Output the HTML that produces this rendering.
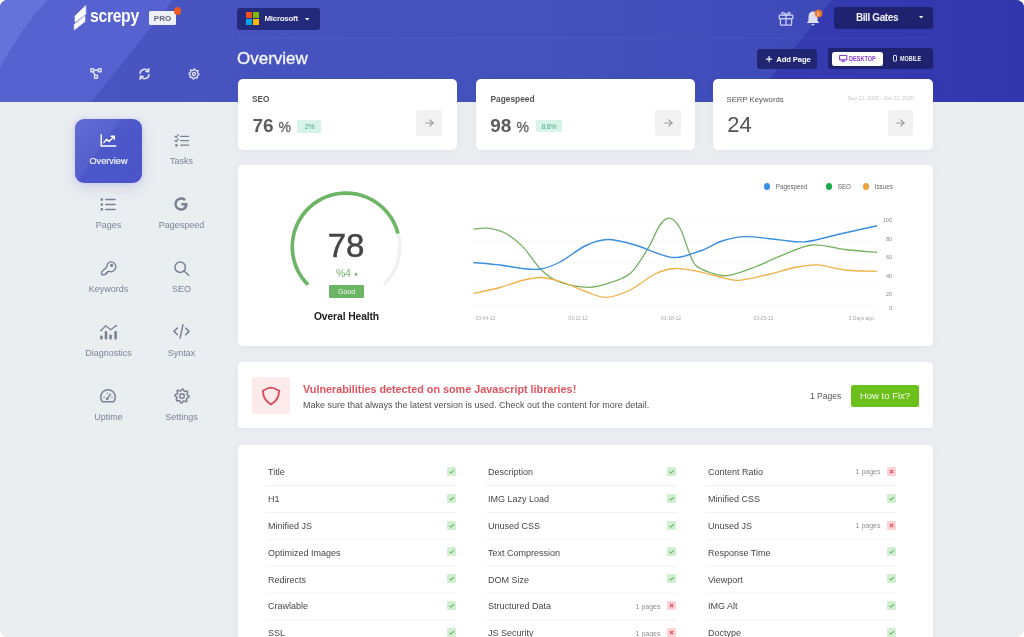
<!DOCTYPE html>
<html><head><meta charset="utf-8"><title>Screpy Overview</title>
<style>
html,body{margin:0;padding:0;background:#fff;}
body{width:1024px;height:637px;overflow:hidden;font-family:"Liberation Sans", sans-serif;}
#app{position:relative;width:1024px;height:637px;overflow:hidden;border-radius:8px;background:#ebeef0;will-change:transform;}
.a{position:absolute;}
.t{position:absolute;white-space:nowrap;line-height:1;}
svg.a{overflow:visible;}
</style></head><body><div id="app">
<div class="a" style="left:0;top:0;width:1024px;height:102px;background:linear-gradient(90deg,#4a57c2 0%,#4653be 30%,#4351bc 55%,#3d49b8 82%);"></div>
<svg class="a" style="left:0px;top:0px;" width="1024" height="102" viewBox="0 0 1024 102">
<defs><linearGradient id="rg" x1="0" x2="1" y1="0" y2="0"><stop offset="0" stop-color="#363bb2"/><stop offset="1" stop-color="#3337ae"/></linearGradient></defs>
<polygon points="832,0 1024,0 1024,102 752,102" fill="url(#rg)"/>
<polygon points="0,0 173,0 91,102 0,102" fill="#5562cf"/>
<path d="M0 0 L47 0 Q20 30 0 68 Z" fill="#6473d9"/>
<rect x="238" y="37.5" width="695" height="1" fill="#ffffff" opacity="0.05"/>
</svg>
<svg class="a" style="left:0px;top:0px;opacity:0.96" width="100" height="40" viewBox="0 0 100 40">
<polygon points="75,16 85.8,5.6 85.8,14.2 75,22.2" fill="#fff" stroke="#fff" stroke-width="0.6" stroke-linejoin="round"/>
<polygon points="74.2,24.6 85,15.8 85,21.6 74.2,30" fill="#fff" stroke="#fff" stroke-width="0.6" stroke-linejoin="round"/>
</svg>
<div class="t" style="left:90.00px;top:6.00px;font-size:19px;color:#fff;font-weight:700;letter-spacing:-0.4px;transform:scaleX(0.83);transform-origin:0 0;">screpy</div>
<div class="a" style="left:149px;top:11px;width:27px;height:13.5px;background:#eef0f8;border-radius:1.5px;"></div>
<div class="t" style="left:149.00px;top:15.00px;font-size:8px;color:#65687a;font-weight:700;width:27px;text-align:center;">PRO</div>
<div class="a" style="left:173.5px;top:7.4px;width:7.8px;height:7.8px;background:#ec5a24;border-radius:5px;"></div>
<svg class="a" style="left:89px;top:67px;" width="14" height="13" viewBox="0 0 14 13">
<g fill="none" stroke="#dfe3fb" stroke-width="1.4">
<rect x="1.8" y="1.8" width="3" height="3" rx="0.5"/>
<rect x="9.2" y="1.8" width="3" height="3" rx="0.5"/>
<rect x="5.5" y="8.2" width="3" height="3" rx="0.5"/>
<path d="M4.8 3.3 L9.2 3.3 M4 4.8 L6.2 8.2"/>
</g></svg>
<svg class="a" style="left:138px;top:68px;" width="13" height="12" viewBox="0 0 13 12">
<g fill="none" stroke="#dfe3fb" stroke-width="1.5" stroke-linecap="round">
<path d="M2 5.2 A4.6 4.6 0 0 1 10.4 3.4"/>
<path d="M11 6.8 A4.6 4.6 0 0 1 2.6 8.6"/>
<path d="M10.8 0.8 L10.6 3.6 L7.8 3.4"/>
<path d="M2.2 11.2 L2.4 8.4 L5.2 8.6"/>
</g></svg>
<svg class="a" style="left:187.5px;top:67.5px;" width="12" height="12" viewBox="0 0 12 12"><polygon points="6.00,1.00 6.98,1.10 7.45,2.49 8.11,2.84 9.54,2.46 10.16,3.22 9.51,4.55 9.73,5.26 11.00,6.00 10.90,6.98 9.51,7.45 9.16,8.11 9.54,9.54 8.78,10.16 7.45,9.51 6.74,9.73 6.00,11.00 5.02,10.90 4.55,9.51 3.89,9.16 2.46,9.54 1.84,8.78 2.49,7.45 2.27,6.74 1.00,6.00 1.10,5.02 2.49,4.55 2.84,3.89 2.46,2.46 3.22,1.84 4.55,2.49 5.26,2.27" fill="none" stroke="#dfe3fb" stroke-width="1.3" stroke-linejoin="round"/><circle cx="6" cy="6" r="1.5" fill="none" stroke="#dfe3fb" stroke-width="1.3"/></svg>
<div class="a" style="left:237px;top:8px;width:82.5px;height:21.5px;background:#232a7b;border-radius:3px;"></div>
<div class="a" style="left:246px;top:12px;width:6.2px;height:6.2px;background:#f25022;border-radius:0px;"></div>
<div class="a" style="left:252.8px;top:12px;width:6.2px;height:6.2px;background:#7fba00;border-radius:0px;"></div>
<div class="a" style="left:246px;top:18.8px;width:6.2px;height:6.2px;background:#00a4ef;border-radius:0px;"></div>
<div class="a" style="left:252.8px;top:18.8px;width:6.2px;height:6.2px;background:#ffb900;border-radius:0px;"></div>
<div class="t" style="left:264.50px;top:15.00px;font-size:8px;color:#f0f1fb;font-weight:700;letter-spacing:-0.3px;">Microsoft</div>
<svg class="a" style="left:305.3px;top:17.6px;" width="4.4" height="2.5" viewBox="0 0 4.4 2.5"><path d="M0 0 L4.4 0 L2.2 2.5 Z" fill="#fff"/></svg>
<svg class="a" style="left:777.6px;top:10.6px;" width="17" height="15" viewBox="0 0 17 15"><g fill="none" stroke="#c9cdf6" stroke-width="1.3" stroke-linejoin="round">
<rect x="1.2" y="4.2" width="13.6" height="3.4" rx="0.6"/>
<rect x="2.4" y="7.6" width="11.2" height="6.6" rx="0.6"/>
<path d="M8 4.2 L8 14.2"/>
<path d="M8 4.2 C6.5 0.2 3 1 4 3 C4.5 4 6.5 4.2 8 4.2 C9.5 4.2 11.5 4 12 3 C13 1 9.5 0.2 8 4.2"/>
</g></svg>
<svg class="a" style="left:806px;top:10px;" width="15" height="17" viewBox="0 0 15 17"><path d="M7 1.5 C3.8 1.5 2.5 4.2 2.5 7 L2.5 10.5 L0.8 13 L13.2 13 L11.5 10.5 L11.5 7 C11.5 4.2 10.2 1.5 7 1.5 Z" fill="#dcdff8"/>
<path d="M5 14.2 Q7 16.6 9 14.2 Z" fill="#dcdff8"/></svg>
<div class="a" style="left:814.6px;top:9.8px;width:7.6px;height:7.6px;background:radial-gradient(circle,#f0661c 0%,#f27a2a 70%,#f08a40 100%);border-radius:5px;box-shadow:0 0 1.5px 0.5px rgba(240,120,60,0.6);"></div>
<div class="t" style="left:814.40px;top:13.00px;font-size:4.6px;color:#ffd9c0;font-weight:700;width:8px;text-align:center;">5</div>
<div class="a" style="left:834px;top:7px;width:99px;height:21.5px;background:#1f236f;border-radius:3px;"></div>
<div class="t" style="left:837.00px;top:13.00px;font-size:10px;color:#f2f3fb;font-weight:700;letter-spacing:-0.4px;width:80px;text-align:center;">Bill Gates</div>
<svg class="a" style="left:919.3px;top:16.4px;" width="4.2" height="2.4" viewBox="0 0 4.2 2.4"><path d="M0 0 L4.2 0 L2.1 2.4 Z" fill="#fff"/></svg>
<div class="t" style="left:237.00px;top:50.00px;font-size:17px;color:#f4f5fd;-webkit-text-stroke:0.35px #f4f5fd;">Overview</div>
<div class="a" style="left:757px;top:48.5px;width:60px;height:20px;background:#212673;border-radius:3px;"></div>
<svg class="a" style="left:765.8px;top:56px;" width="6.2" height="6.2" viewBox="0 0 6.2 6.2"><path d="M3.1 0 V6.2 M0 3.1 H6.2" stroke="#fff" stroke-width="1.1"/></svg>
<div class="t" style="left:776.30px;top:56.00px;font-size:7.7px;color:#fff;font-weight:700;letter-spacing:-0.15px;">Add Page</div>
<div class="a" style="left:828px;top:48px;width:105px;height:20.7px;background:#1f236f;border-radius:3px;"></div>
<div class="a" style="left:832px;top:52px;width:51px;height:13.7px;background:#fff;border-radius:2.5px;"></div>
<svg class="a" style="left:838.7px;top:55px;" width="8.4" height="6.6" viewBox="0 0 8.4 6.6"><g fill="none" stroke="#8b3cd9" stroke-width="1.1"><rect x="0.6" y="0.55" width="7.2" height="4.3" rx="0.4"/><path d="M4.2 4.9 V6.3 M2.4 6.3 H6"/></g></svg>
<div class="t" style="left:849.20px;top:56.00px;font-size:6.8px;color:#8b3cd9;font-weight:700;transform:scaleX(0.82);transform-origin:0 0;">DESKTOP</div>
<svg class="a" style="left:893.2px;top:55.2px;" width="4" height="6.6" viewBox="0 0 4 6.6"><rect x="0.5" y="0.5" width="3" height="5.6" rx="0.5" fill="none" stroke="#e6e8fb" stroke-width="0.95"/></svg>
<div class="t" style="left:900.40px;top:56.00px;font-size:6.8px;color:#eef0fb;font-weight:700;transform:scaleX(0.8);transform-origin:0 0;">MOBILE</div>
<div class="a" style="left:75px;top:119px;width:67px;height:63.5px;border-radius:9px;background:linear-gradient(135deg,#5a65d4 0%,#4d58ca 45%,#4a54c6 100%);box-shadow:0 5px 14px rgba(60,70,160,0.16), 0 0 0 2.5px rgba(226,229,248,0.8);overflow:hidden;">
<div style="position:absolute;left:-20px;top:-30px;width:40px;height:120px;background:rgba(255,255,255,0.05);transform:rotate(35deg);"></div></div>
<div class="t" style="left:78.50px;top:157.00px;font-size:9.1px;color:#f3f4fd;width:60px;text-align:center;-webkit-text-stroke:0.2px #f3f4fd;">Overview</div>
<div class="t" style="left:151.50px;top:157.00px;font-size:9px;color:#7c8394;width:60px;text-align:center;">Tasks</div>
<div class="t" style="left:78.50px;top:221.00px;font-size:9px;color:#7c8394;width:60px;text-align:center;">Pages</div>
<div class="t" style="left:151.50px;top:221.00px;font-size:9px;color:#7c8394;width:60px;text-align:center;">Pagespeed</div>
<div class="t" style="left:78.50px;top:285.00px;font-size:9px;color:#7c8394;width:60px;text-align:center;">Keywords</div>
<div class="t" style="left:151.50px;top:285.00px;font-size:9px;color:#7c8394;width:60px;text-align:center;">SEO</div>
<div class="t" style="left:78.50px;top:349.00px;font-size:9px;color:#7c8394;width:60px;text-align:center;">Diagnostics</div>
<div class="t" style="left:151.50px;top:349.00px;font-size:9px;color:#7c8394;width:60px;text-align:center;">Syntax</div>
<div class="t" style="left:78.50px;top:413.00px;font-size:9px;color:#7c8394;width:60px;text-align:center;">Uptime</div>
<div class="t" style="left:151.50px;top:413.00px;font-size:9px;color:#7c8394;width:60px;text-align:center;">Settings</div>
<svg class="a" style="left:99.5px;top:133.8px;" width="17" height="13" viewBox="0 0 17 13"><g fill="none" stroke="#fff" stroke-width="1.4" stroke-linecap="round" stroke-linejoin="round">
<path d="M1.2 0.8 V12 H15.8"/><path d="M3.8 8.6 L6.8 5.2 L9.2 7.4 L13.8 2.6"/><path d="M11 2.2 H14.3 V5.4"/></g></svg>
<svg class="a" style="left:173.5px;top:133.8px;" width="16" height="13" viewBox="0 0 16 13"><g fill="none" stroke="#7a8194" stroke-width="1.3" stroke-linecap="round" stroke-linejoin="round">
<path d="M1 2.2 L2.2 3.4 L4.2 0.8"/><path d="M1 6.4 L2.2 7.6 L4.2 5"/><circle cx="2.4" cy="11.3" r="0.7" fill="#7a8194"/>
<path d="M6.8 2.4 H14.6 M6.8 6.6 H14.6 M6.8 11.2 H14.6"/></g></svg>
<svg class="a" style="left:100.0px;top:197.7px;" width="16" height="13" viewBox="0 0 16 13"><g fill="none" stroke="#7a8194" stroke-width="1.5" stroke-linecap="round">
<circle cx="1.8" cy="1.6" r="0.6" fill="#7a8194"/><circle cx="1.8" cy="6.5" r="0.6" fill="#7a8194"/><circle cx="1.8" cy="11.4" r="0.6" fill="#7a8194"/>
<path d="M5.8 1.6 H15 M5.8 6.5 H15 M5.8 11.4 H15"/></g></svg>
<svg class="a" style="left:174.1px;top:197.2px;" width="15" height="14" viewBox="0 0 15 14"><path d="M13.2 6 H7.4 V8.4 H10.6 C10.1 10.1 8.9 11.3 7.2 11.3 C4.6 11.3 2.8 9.3 2.8 7 C2.8 4.7 4.6 2.7 7.2 2.7 C8.4 2.7 9.4 3.1 10.2 3.9 L12 2.1 C10.7 0.9 9.1 0.3 7.2 0.3 C3.4 0.3 0.4 3.3 0.4 7 C0.4 10.7 3.4 13.7 7.2 13.7 C11 13.7 13.6 11 13.6 7.2 C13.6 6.8 13.3 6.4 13.2 6 Z" fill="#7a8194"/></svg>
<svg class="a" style="left:99.5px;top:260.6px;" width="17" height="15" viewBox="0 0 17 15"><g fill="none" stroke="#7a8194" stroke-width="1.4" stroke-linejoin="round">
<path d="M10.6 0.9 A4.9 4.9 0 1 1 9.3 10.4 L7.6 10.4 L7.6 12 L5.8 12 L5.8 13.6 L2.2 13.8 L1.4 12.8 L1.6 11 L6.9 5.8 A4.9 4.9 0 0 1 10.6 0.9 Z"/>
<circle cx="11.6" cy="4.4" r="0.9" fill="#7a8194"/></g></svg>
<svg class="a" style="left:174.0px;top:260.7px;" width="16" height="15" viewBox="0 0 16 15"><g fill="none" stroke="#7a8194" stroke-width="1.5" stroke-linecap="round">
<circle cx="6.2" cy="6.2" r="5.2"/><path d="M10 10 L14.8 14.2"/></g></svg>
<svg class="a" style="left:98.5px;top:323.8px;" width="19" height="16" viewBox="0 0 19 16"><g fill="none" stroke="#7a8194" stroke-width="1.3" stroke-linejoin="round" stroke-linecap="round">
<path d="M2.1 6.4 L6.7 1.8 L11.8 5.8 L16.9 1.8"/>
<rect x="1.75" y="12.05" width="1.3" height="2.8" rx="0.4"/><rect x="6.35" y="7.55" width="1.25" height="7.3" rx="0.4"/>
<rect x="10.95" y="11.05" width="1.25" height="3.8" rx="0.4"/><rect x="15.95" y="7.55" width="1.3" height="7.3" rx="0.4"/></g>
<circle cx="2.1" cy="6.4" r="1" fill="#7a8194"/><circle cx="16.9" cy="1.8" r="1" fill="#7a8194"/></svg>
<svg class="a" style="left:172.8px;top:324.4px;" width="17" height="15" viewBox="0 0 17 15"><g fill="none" stroke="#7a8194" stroke-width="1.5" stroke-linecap="round" stroke-linejoin="round">
<path d="M4.4 4 L1 7.4 L4.4 10.8"/><path d="M12.6 4 L16 7.4 L12.6 10.8"/><path d="M9.9 0.8 L7.1 14.2"/></g></svg>
<svg class="a" style="left:99.2px;top:388.4px;" width="18" height="16" viewBox="0 0 18 16"><g fill="none" stroke="#7a8194" stroke-width="1.5" stroke-linecap="round" stroke-linejoin="round">
<path d="M3.4 13.7 A7.3 7.3 0 1 1 14.6 13.7 Z"/><path d="M8.4 10.6 L11.4 6.4"/></g>
<circle cx="5" cy="9.2" r="0.75" fill="#7a8194"/><circle cx="8.5" cy="5.2" r="0.75" fill="#7a8194"/><circle cx="13" cy="9.2" r="0.75" fill="#7a8194"/>
<circle cx="8.2" cy="10.8" r="1.4" fill="#7a8194"/></svg>
<svg class="a" style="left:173.7px;top:387.6px;" width="16" height="16" viewBox="0 0 16 16"><polygon points="8.00,1.00 9.37,1.13 10.03,3.10 10.94,3.59 12.95,3.05 13.82,4.11 12.90,5.97 13.20,6.97 15.00,8.00 14.87,9.37 12.90,10.03 12.41,10.94 12.95,12.95 11.89,13.82 10.03,12.90 9.03,13.20 8.00,15.00 6.63,14.87 5.97,12.90 5.06,12.41 3.05,12.95 2.18,11.89 3.10,10.03 2.80,9.03 1.00,8.00 1.13,6.63 3.10,5.97 3.59,5.06 3.05,3.05 4.11,2.18 5.97,3.10 6.97,2.80" fill="none" stroke="#7a8194" stroke-width="1.5" stroke-linejoin="round"/><circle cx="8" cy="8" r="2.3" fill="none" stroke="#7a8194" stroke-width="1.5"/></svg>
<div class="a" style="left:238px;top:79px;width:219px;height:70.5px;background:#fff;border-radius:5px;box-shadow:0 1px 8px rgba(90,100,190,0.07);"></div>
<div class="a" style="left:476px;top:79px;width:219px;height:70.5px;background:#fff;border-radius:5px;box-shadow:0 1px 8px rgba(90,100,190,0.07);"></div>
<div class="a" style="left:713px;top:79px;width:220px;height:70.5px;background:#fff;border-radius:5px;box-shadow:0 1px 8px rgba(90,100,190,0.07);"></div>
<div class="t" style="left:252.00px;top:96.00px;font-size:8.2px;color:#555;font-weight:700;">SEO</div>
<div class="t" style="left:252.40px;top:116.00px;font-size:19px;color:#5c5c5c;font-weight:700;">76</div>
<div class="t" style="left:278.40px;top:120.00px;font-size:14px;color:#666;-webkit-text-stroke:0.35px #666;">%</div>
<div class="a" style="left:297px;top:119.6px;width:24.2px;height:13px;background:#d8f3e9;border-radius:1px;"></div>
<div class="t" style="left:297.60px;top:123.00px;font-size:7px;color:#4aae86;letter-spacing:-0.3px;width:24px;text-align:center;">2%</div>
<div class="t" style="left:490.40px;top:95.00px;font-size:8.4px;color:#555;font-weight:700;">Pagespeed</div>
<div class="t" style="left:490.20px;top:116.00px;font-size:19px;color:#5c5c5c;font-weight:700;">98</div>
<div class="t" style="left:516.40px;top:120.00px;font-size:14px;color:#666;-webkit-text-stroke:0.35px #666;">%</div>
<div class="a" style="left:535.8px;top:119.6px;width:26.3px;height:12.6px;background:#d8f3e9;border-radius:1px;"></div>
<div class="t" style="left:536.00px;top:123.00px;font-size:7px;color:#4aae86;letter-spacing:-0.3px;width:26px;text-align:center;">8.8%</div>
<div class="t" style="left:726.50px;top:96.00px;font-size:7.75px;color:#555;">SERP Keywords</div>
<div class="t" style="left:727.20px;top:114.00px;font-size:22px;color:#555;">24</div>
<div class="t" style="left:823.80px;top:96.00px;font-size:5.5px;color:#c8c8c8;letter-spacing:-0.1px;width:90px;text-align:right;">Sep 22, 2020 - Oct 22, 2020</div>
<div class="a" style="left:416.3px;top:109.8px;width:25.5px;height:25.8px;background:#f2f2f2;border-radius:2px;"></div>
<svg class="a" style="left:424.8px;top:118.8px;" width="9" height="8" viewBox="0 0 9 8"><g fill="none" stroke="#9a9a9a" stroke-width="1.2" stroke-linecap="round" stroke-linejoin="round"><path d="M0.8 4 H8"/><path d="M4.8 0.8 L8 4 L4.8 7.2"/></g></svg>
<div class="a" style="left:655.2px;top:109.8px;width:25.5px;height:25.8px;background:#f2f2f2;border-radius:2px;"></div>
<svg class="a" style="left:663.7px;top:118.8px;" width="9" height="8" viewBox="0 0 9 8"><g fill="none" stroke="#9a9a9a" stroke-width="1.2" stroke-linecap="round" stroke-linejoin="round"><path d="M0.8 4 H8"/><path d="M4.8 0.8 L8 4 L4.8 7.2"/></g></svg>
<div class="a" style="left:887.6px;top:109.8px;width:25.5px;height:25.8px;background:#f2f2f2;border-radius:2px;"></div>
<svg class="a" style="left:896.1px;top:118.8px;" width="9" height="8" viewBox="0 0 9 8"><g fill="none" stroke="#9a9a9a" stroke-width="1.2" stroke-linecap="round" stroke-linejoin="round"><path d="M0.8 4 H8"/><path d="M4.8 0.8 L8 4 L4.8 7.2"/></g></svg>
<div class="a" style="left:238px;top:165px;width:695px;height:181px;background:#fff;border-radius:4px;box-shadow:0 1px 8px rgba(90,100,190,0.07);"></div>
<svg class="a" style="left:0px;top:0px;pointer-events:none" width="1024" height="637" viewBox="0 0 1024 637">
<path d="M308.03 284.77 A53.7 53.7 0 1 1 383.97 284.77" fill="none" stroke="#f0f0f0" stroke-width="3.4"/>
<path d="M308.03 284.77 A53.7 53.7 0 1 1 398.01 233.45" fill="none" stroke="#6cb565" stroke-width="3.6"/>
</svg>
<div class="t" style="left:306.00px;top:229.00px;font-size:33px;color:#444;width:80px;text-align:center;-webkit-text-stroke:0.5px #444;">78</div>
<div class="t" style="left:328.30px;top:268.00px;font-size:10.5px;color:#76b870;letter-spacing:-0.2px;width:30px;text-align:center;">%4</div>
<svg class="a" style="left:354.2px;top:272px;" width="3.8" height="3.4" viewBox="0 0 3.8 3.4"><path d="M1.9 0 L3.8 3.4 L0 3.4 Z" fill="#6cb565"/></svg>
<div class="a" style="left:329px;top:285.3px;width:35.2px;height:12.5px;background:#6cb565;border-radius:1px;"></div>
<div class="t" style="left:329.10px;top:288.00px;font-size:7px;color:#f2fbf1;width:35px;text-align:center;">Good</div>
<div class="t" style="left:296.50px;top:312.00px;font-size:10.3px;color:#222;font-weight:700;letter-spacing:-0.1px;width:100px;text-align:center;">Overal Health</div>
<div class="a" style="left:763.6999999999999px;top:183.4px;width:6.4px;height:6.4px;background:#3d8fe3;border-radius:4px;"></div>
<div class="t" style="left:775.70px;top:184.00px;font-size:6.3px;color:#666;">Pagespeed</div>
<div class="a" style="left:825.6999999999999px;top:183.4px;width:6.4px;height:6.4px;background:#1faa4a;border-radius:4px;"></div>
<div class="t" style="left:837.70px;top:184.00px;font-size:6.3px;color:#666;">SEO</div>
<div class="a" style="left:862.6999999999999px;top:183.4px;width:6.4px;height:6.4px;background:#f0a23c;border-radius:4px;"></div>
<div class="t" style="left:874.70px;top:184.00px;font-size:6.3px;color:#666;">Issues</div>
<svg class="a" style="left:0px;top:0px;pointer-events:none" width="1024" height="637" viewBox="0 0 1024 637"><line x1="473" y1="219.7" x2="877" y2="219.7" stroke="#ebebeb" stroke-width="0.8" stroke-dasharray="1.6 2.4"/><line x1="473" y1="241.5" x2="877" y2="241.5" stroke="#ebebeb" stroke-width="0.8" stroke-dasharray="1.6 2.4"/><line x1="473" y1="263" x2="877" y2="263" stroke="#ebebeb" stroke-width="0.8" stroke-dasharray="1.6 2.4"/><line x1="473" y1="285" x2="877" y2="285" stroke="#ebebeb" stroke-width="0.8" stroke-dasharray="1.6 2.4"/><line x1="473" y1="306" x2="877" y2="306" stroke="#ebebeb" stroke-width="0.8" stroke-dasharray="1.6 2.4"/>
<path d="M473.50 229.10 C475.75 228.95 481.75 227.55 487.00 228.20 C492.25 228.85 499.08 229.97 505.00 233.00 C510.92 236.03 516.43 240.23 522.50 246.40 C528.57 252.57 535.15 264.03 541.40 270.00 C547.65 275.97 552.07 279.32 560.00 282.20 C567.93 285.08 580.33 287.33 589.00 287.30 C597.67 287.27 605.00 284.42 612.00 282.00 C619.00 279.58 625.00 278.42 631.00 272.80 C637.00 267.18 643.17 256.27 648.00 248.30 C652.83 240.33 656.42 230.02 660.00 225.00 C663.58 219.98 666.17 217.70 669.50 218.20 C672.83 218.70 676.75 222.37 680.00 228.00 C683.25 233.63 686.38 245.78 689.00 252.00 C691.62 258.22 692.20 261.88 695.70 265.30 C699.20 268.72 704.67 270.78 710.00 272.50 C715.33 274.22 720.20 276.52 727.70 275.60 C735.20 274.68 746.28 270.23 755.00 267.00 C763.72 263.77 770.50 259.87 780.00 256.20 C789.50 252.53 801.17 246.12 812.00 245.00 C822.83 243.88 834.17 248.25 845.00 249.50 C855.83 250.75 871.67 252.00 877.00 252.50" fill="none" stroke="#76b061" stroke-width="1.3"/>
<path d="M473.50 293.50 C477.92 292.50 491.92 289.67 500.00 287.50 C508.08 285.33 515.17 282.17 522.00 280.50 C528.83 278.83 534.33 277.25 541.00 277.50 C547.67 277.75 554.50 279.63 562.00 282.00 C569.50 284.37 578.60 289.15 586.00 291.70 C593.40 294.25 599.07 297.58 606.40 297.30 C613.73 297.02 621.90 293.88 630.00 290.00 C638.10 286.12 647.50 277.58 655.00 274.00 C662.50 270.42 667.50 268.85 675.00 268.50 C682.50 268.15 692.50 270.48 700.00 271.90 C707.50 273.32 713.50 275.58 720.00 277.00 C726.50 278.42 730.67 280.90 739.00 280.40 C747.33 279.90 760.67 276.15 770.00 274.00 C779.33 271.85 787.05 269.02 795.00 267.50 C802.95 265.98 809.37 264.48 817.70 264.90 C826.03 265.32 835.12 268.93 845.00 270.00 C854.88 271.07 871.67 271.08 877.00 271.30" fill="none" stroke="#f0b046" stroke-width="1.3"/>
<path d="M473.50 262.50 C477.92 262.92 491.92 264.00 500.00 265.00 C508.08 266.00 515.17 267.83 522.00 268.50 C528.83 269.17 534.67 270.08 541.00 269.00 C547.33 267.92 552.50 265.92 560.00 262.00 C567.50 258.08 578.00 249.25 586.00 245.50 C594.00 241.75 599.83 239.58 608.00 239.50 C616.17 239.42 624.33 242.02 635.00 245.00 C645.67 247.98 661.17 256.40 672.00 257.40 C682.83 258.40 691.67 253.73 700.00 251.00 C708.33 248.27 714.50 243.40 722.00 241.00 C729.50 238.60 735.33 236.78 745.00 236.60 C754.67 236.42 769.83 239.05 780.00 239.90 C790.17 240.75 796.00 242.68 806.00 241.70 C816.00 240.72 828.17 236.67 840.00 234.00 C851.83 231.33 870.83 227.08 877.00 225.70" fill="none" stroke="#3c8fde" stroke-width="1.4"/>
</svg>
<div class="t" style="left:872.00px;top:218.00px;font-size:5.5px;color:#8a8a8a;width:20px;text-align:right;">100</div>
<div class="t" style="left:872.00px;top:237.00px;font-size:5.5px;color:#8a8a8a;width:20px;text-align:right;">80</div>
<div class="t" style="left:872.00px;top:255.00px;font-size:5.5px;color:#8a8a8a;width:20px;text-align:right;">60</div>
<div class="t" style="left:872.00px;top:274.00px;font-size:5.5px;color:#8a8a8a;width:20px;text-align:right;">40</div>
<div class="t" style="left:872.00px;top:292.00px;font-size:5.5px;color:#8a8a8a;width:20px;text-align:right;">20</div>
<div class="t" style="left:872.00px;top:306.00px;font-size:5.5px;color:#8a8a8a;width:20px;text-align:right;">0</div>
<div class="t" style="left:465.40px;top:316.00px;font-size:5px;color:#a8a8a8;width:40px;text-align:center;">03-04-12</div>
<div class="t" style="left:558.00px;top:316.00px;font-size:5px;color:#a8a8a8;width:40px;text-align:center;">03-11-12</div>
<div class="t" style="left:651.00px;top:316.00px;font-size:5px;color:#a8a8a8;width:40px;text-align:center;">03-18-12</div>
<div class="t" style="left:743.40px;top:316.00px;font-size:5px;color:#a8a8a8;width:40px;text-align:center;">03-25-12</div>
<div class="t" style="left:841.30px;top:316.00px;font-size:5px;color:#a8a8a8;width:40px;text-align:center;">3 Days ago</div>
<div class="a" style="left:238px;top:362px;width:695px;height:66px;background:#fff;border-radius:4px;box-shadow:0 1px 8px rgba(90,100,190,0.07);"></div>
<div class="a" style="left:252px;top:377.2px;width:37.6px;height:37px;background:#fdeaea;border-radius:3px;"></div>
<svg class="a" style="left:261px;top:386px;" width="20" height="20" viewBox="0 0 20 20"><path d="M10 1.6 C7.4 1.7 4.6 3 2 4.8 C1.8 11 5 15.6 10 18.5 C15 15.6 18.2 11 18 4.8 C15.4 3 12.6 1.7 10 1.6 Z" fill="none" stroke="#d54c5c" stroke-width="1.9" stroke-linejoin="round"/></svg>
<div class="t" style="left:303.00px;top:384.00px;font-size:10.8px;color:#e2535e;font-weight:700;">Vulnerabilities detected on some Javascript libraries!</div>
<div class="t" style="left:303.00px;top:401.00px;font-size:9px;color:#505050;">Make sure that always the latest version is used. Check out the content for more detail.</div>
<div class="t" style="left:810.00px;top:392.00px;font-size:8.5px;color:#555;">1 Pages</div>
<div class="a" style="left:851.4px;top:384.6px;width:67.3px;height:22.2px;background:#6cc01b;border-radius:2.5px;"></div>
<div class="t" style="left:851.50px;top:391.00px;font-size:9.5px;color:#f4fbe9;width:67px;text-align:center;">How to Fix?</div>
<div class="a" style="left:238px;top:444.5px;width:695px;height:200px;background:#fff;border-radius:4px;box-shadow:0 1px 8px rgba(90,100,190,0.07);"></div>
<div class="t" style="left:268.00px;top:468.00px;font-size:9px;color:#474747;">Title</div>
<div class="a" style="left:447px;top:466.8px;width:9.2px;height:9px;background:#d3efd3;border-radius:1px;"></div>
<svg class="a" style="left:447px;top:466.8px;" width="9.2" height="9" viewBox="0 0 9.2 9"><path d="M2.5 4.7 L4 6.1 L6.9 3.1" fill="none" stroke="#66b866" stroke-width="1.1"/></svg>
<div class="t" style="left:268.00px;top:495.00px;font-size:9px;color:#474747;">H1</div>
<div class="a" style="left:447px;top:493.65000000000003px;width:9.2px;height:9px;background:#d3efd3;border-radius:1px;"></div>
<svg class="a" style="left:447px;top:493.65000000000003px;" width="9.2" height="9" viewBox="0 0 9.2 9"><path d="M2.5 4.7 L4 6.1 L6.9 3.1" fill="none" stroke="#66b866" stroke-width="1.1"/></svg>
<div class="t" style="left:268.00px;top:522.00px;font-size:9px;color:#474747;">Minified JS</div>
<div class="a" style="left:447px;top:520.5px;width:9.2px;height:9px;background:#d3efd3;border-radius:1px;"></div>
<svg class="a" style="left:447px;top:520.5px;" width="9.2" height="9" viewBox="0 0 9.2 9"><path d="M2.5 4.7 L4 6.1 L6.9 3.1" fill="none" stroke="#66b866" stroke-width="1.1"/></svg>
<div class="t" style="left:268.00px;top:549.00px;font-size:9px;color:#474747;">Optimized Images</div>
<div class="a" style="left:447px;top:547.35px;width:9.2px;height:9px;background:#d3efd3;border-radius:1px;"></div>
<svg class="a" style="left:447px;top:547.35px;" width="9.2" height="9" viewBox="0 0 9.2 9"><path d="M2.5 4.7 L4 6.1 L6.9 3.1" fill="none" stroke="#66b866" stroke-width="1.1"/></svg>
<div class="t" style="left:268.00px;top:576.00px;font-size:9px;color:#474747;">Redirects</div>
<div class="a" style="left:447px;top:574.2px;width:9.2px;height:9px;background:#d3efd3;border-radius:1px;"></div>
<svg class="a" style="left:447px;top:574.2px;" width="9.2" height="9" viewBox="0 0 9.2 9"><path d="M2.5 4.7 L4 6.1 L6.9 3.1" fill="none" stroke="#66b866" stroke-width="1.1"/></svg>
<div class="t" style="left:268.00px;top:602.00px;font-size:9px;color:#474747;">Crawlable</div>
<div class="a" style="left:447px;top:601.05px;width:9.2px;height:9px;background:#d3efd3;border-radius:1px;"></div>
<svg class="a" style="left:447px;top:601.05px;" width="9.2" height="9" viewBox="0 0 9.2 9"><path d="M2.5 4.7 L4 6.1 L6.9 3.1" fill="none" stroke="#66b866" stroke-width="1.1"/></svg>
<div class="t" style="left:268.00px;top:629.00px;font-size:9px;color:#474747;">SSL</div>
<div class="a" style="left:447px;top:627.9000000000001px;width:9.2px;height:9px;background:#d3efd3;border-radius:1px;"></div>
<svg class="a" style="left:447px;top:627.9000000000001px;" width="9.2" height="9" viewBox="0 0 9.2 9"><path d="M2.5 4.7 L4 6.1 L6.9 3.1" fill="none" stroke="#66b866" stroke-width="1.1"/></svg>
<div class="t" style="left:488.00px;top:468.00px;font-size:9px;color:#474747;">Description</div>
<div class="a" style="left:667px;top:466.8px;width:9.2px;height:9px;background:#d3efd3;border-radius:1px;"></div>
<svg class="a" style="left:667px;top:466.8px;" width="9.2" height="9" viewBox="0 0 9.2 9"><path d="M2.5 4.7 L4 6.1 L6.9 3.1" fill="none" stroke="#66b866" stroke-width="1.1"/></svg>
<div class="t" style="left:488.00px;top:495.00px;font-size:9px;color:#474747;">IMG Lazy Load</div>
<div class="a" style="left:667px;top:493.65000000000003px;width:9.2px;height:9px;background:#d3efd3;border-radius:1px;"></div>
<svg class="a" style="left:667px;top:493.65000000000003px;" width="9.2" height="9" viewBox="0 0 9.2 9"><path d="M2.5 4.7 L4 6.1 L6.9 3.1" fill="none" stroke="#66b866" stroke-width="1.1"/></svg>
<div class="t" style="left:488.00px;top:522.00px;font-size:9px;color:#474747;">Unused CSS</div>
<div class="a" style="left:667px;top:520.5px;width:9.2px;height:9px;background:#d3efd3;border-radius:1px;"></div>
<svg class="a" style="left:667px;top:520.5px;" width="9.2" height="9" viewBox="0 0 9.2 9"><path d="M2.5 4.7 L4 6.1 L6.9 3.1" fill="none" stroke="#66b866" stroke-width="1.1"/></svg>
<div class="t" style="left:488.00px;top:549.00px;font-size:9px;color:#474747;">Text Compression</div>
<div class="a" style="left:667px;top:547.35px;width:9.2px;height:9px;background:#d3efd3;border-radius:1px;"></div>
<svg class="a" style="left:667px;top:547.35px;" width="9.2" height="9" viewBox="0 0 9.2 9"><path d="M2.5 4.7 L4 6.1 L6.9 3.1" fill="none" stroke="#66b866" stroke-width="1.1"/></svg>
<div class="t" style="left:488.00px;top:576.00px;font-size:9px;color:#474747;">DOM Size</div>
<div class="a" style="left:667px;top:574.2px;width:9.2px;height:9px;background:#d3efd3;border-radius:1px;"></div>
<svg class="a" style="left:667px;top:574.2px;" width="9.2" height="9" viewBox="0 0 9.2 9"><path d="M2.5 4.7 L4 6.1 L6.9 3.1" fill="none" stroke="#66b866" stroke-width="1.1"/></svg>
<div class="t" style="left:488.00px;top:602.00px;font-size:9px;color:#474747;">Structured Data</div>
<div class="a" style="left:667px;top:601.05px;width:9.2px;height:9px;background:#fcd3d7;border-radius:1px;"></div>
<svg class="a" style="left:667px;top:601.05px;" width="9.2" height="9" viewBox="0 0 9.2 9"><path d="M3 2.9 L6.2 6.1 M6.2 2.9 L3 6.1" stroke="#e0505e" stroke-width="1.2"/></svg>
<div class="t" style="left:620.50px;top:603.00px;font-size:7px;color:#909090;width:40px;text-align:right;">1 pages</div>
<div class="t" style="left:488.00px;top:629.00px;font-size:9px;color:#474747;">JS Security</div>
<div class="a" style="left:667px;top:627.9000000000001px;width:9.2px;height:9px;background:#fcd3d7;border-radius:1px;"></div>
<svg class="a" style="left:667px;top:627.9000000000001px;" width="9.2" height="9" viewBox="0 0 9.2 9"><path d="M3 2.9 L6.2 6.1 M6.2 2.9 L3 6.1" stroke="#e0505e" stroke-width="1.2"/></svg>
<div class="t" style="left:620.50px;top:630.00px;font-size:7px;color:#909090;width:40px;text-align:right;">1 pages</div>
<div class="t" style="left:708.00px;top:468.00px;font-size:9px;color:#474747;">Content Ratio</div>
<div class="a" style="left:887px;top:466.8px;width:9.2px;height:9px;background:#fcd3d7;border-radius:1px;"></div>
<svg class="a" style="left:887px;top:466.8px;" width="9.2" height="9" viewBox="0 0 9.2 9"><path d="M3 2.9 L6.2 6.1 M6.2 2.9 L3 6.1" stroke="#e0505e" stroke-width="1.2"/></svg>
<div class="t" style="left:840.50px;top:468.00px;font-size:7px;color:#909090;width:40px;text-align:right;">1 pages</div>
<div class="t" style="left:708.00px;top:495.00px;font-size:9px;color:#474747;">Minified CSS</div>
<div class="a" style="left:887px;top:493.65000000000003px;width:9.2px;height:9px;background:#d3efd3;border-radius:1px;"></div>
<svg class="a" style="left:887px;top:493.65000000000003px;" width="9.2" height="9" viewBox="0 0 9.2 9"><path d="M2.5 4.7 L4 6.1 L6.9 3.1" fill="none" stroke="#66b866" stroke-width="1.1"/></svg>
<div class="t" style="left:708.00px;top:522.00px;font-size:9px;color:#474747;">Unused JS</div>
<div class="a" style="left:887px;top:520.5px;width:9.2px;height:9px;background:#fcd3d7;border-radius:1px;"></div>
<svg class="a" style="left:887px;top:520.5px;" width="9.2" height="9" viewBox="0 0 9.2 9"><path d="M3 2.9 L6.2 6.1 M6.2 2.9 L3 6.1" stroke="#e0505e" stroke-width="1.2"/></svg>
<div class="t" style="left:840.50px;top:522.00px;font-size:7px;color:#909090;width:40px;text-align:right;">1 pages</div>
<div class="t" style="left:708.00px;top:549.00px;font-size:9px;color:#474747;">Response Time</div>
<div class="a" style="left:887px;top:547.35px;width:9.2px;height:9px;background:#d3efd3;border-radius:1px;"></div>
<svg class="a" style="left:887px;top:547.35px;" width="9.2" height="9" viewBox="0 0 9.2 9"><path d="M2.5 4.7 L4 6.1 L6.9 3.1" fill="none" stroke="#66b866" stroke-width="1.1"/></svg>
<div class="t" style="left:708.00px;top:576.00px;font-size:9px;color:#474747;">Viewport</div>
<div class="a" style="left:887px;top:574.2px;width:9.2px;height:9px;background:#d3efd3;border-radius:1px;"></div>
<svg class="a" style="left:887px;top:574.2px;" width="9.2" height="9" viewBox="0 0 9.2 9"><path d="M2.5 4.7 L4 6.1 L6.9 3.1" fill="none" stroke="#66b866" stroke-width="1.1"/></svg>
<div class="t" style="left:708.00px;top:602.00px;font-size:9px;color:#474747;">IMG Alt</div>
<div class="a" style="left:887px;top:601.05px;width:9.2px;height:9px;background:#d3efd3;border-radius:1px;"></div>
<svg class="a" style="left:887px;top:601.05px;" width="9.2" height="9" viewBox="0 0 9.2 9"><path d="M2.5 4.7 L4 6.1 L6.9 3.1" fill="none" stroke="#66b866" stroke-width="1.1"/></svg>
<div class="t" style="left:708.00px;top:629.00px;font-size:9px;color:#474747;">Doctype</div>
<div class="a" style="left:887px;top:627.9000000000001px;width:9.2px;height:9px;background:#d3efd3;border-radius:1px;"></div>
<svg class="a" style="left:887px;top:627.9000000000001px;" width="9.2" height="9" viewBox="0 0 9.2 9"><path d="M2.5 4.7 L4 6.1 L6.9 3.1" fill="none" stroke="#66b866" stroke-width="1.1"/></svg>
<svg class="a" style="left:0px;top:0px;pointer-events:none" width="1024" height="637" viewBox="0 0 1024 637"><line x1="266" y1="485.60" x2="456.5" y2="485.60" stroke="#f2f2f2" stroke-width="1"/><line x1="266" y1="512.45" x2="456.5" y2="512.45" stroke="#f2f2f2" stroke-width="1"/><line x1="266" y1="539.30" x2="456.5" y2="539.30" stroke="#f2f2f2" stroke-width="1"/><line x1="266" y1="566.15" x2="456.5" y2="566.15" stroke="#f2f2f2" stroke-width="1"/><line x1="266" y1="593.00" x2="456.5" y2="593.00" stroke="#f2f2f2" stroke-width="1"/><line x1="266" y1="619.85" x2="456.5" y2="619.85" stroke="#f2f2f2" stroke-width="1"/><line x1="486" y1="485.60" x2="676.5" y2="485.60" stroke="#f2f2f2" stroke-width="1"/><line x1="486" y1="512.45" x2="676.5" y2="512.45" stroke="#f2f2f2" stroke-width="1"/><line x1="486" y1="539.30" x2="676.5" y2="539.30" stroke="#f2f2f2" stroke-width="1"/><line x1="486" y1="566.15" x2="676.5" y2="566.15" stroke="#f2f2f2" stroke-width="1"/><line x1="486" y1="593.00" x2="676.5" y2="593.00" stroke="#f2f2f2" stroke-width="1"/><line x1="486" y1="619.85" x2="676.5" y2="619.85" stroke="#f2f2f2" stroke-width="1"/><line x1="706" y1="485.60" x2="896.5" y2="485.60" stroke="#f2f2f2" stroke-width="1"/><line x1="706" y1="512.45" x2="896.5" y2="512.45" stroke="#f2f2f2" stroke-width="1"/><line x1="706" y1="539.30" x2="896.5" y2="539.30" stroke="#f2f2f2" stroke-width="1"/><line x1="706" y1="566.15" x2="896.5" y2="566.15" stroke="#f2f2f2" stroke-width="1"/><line x1="706" y1="593.00" x2="896.5" y2="593.00" stroke="#f2f2f2" stroke-width="1"/><line x1="706" y1="619.85" x2="896.5" y2="619.85" stroke="#f2f2f2" stroke-width="1"/></svg>
</div></body></html>
